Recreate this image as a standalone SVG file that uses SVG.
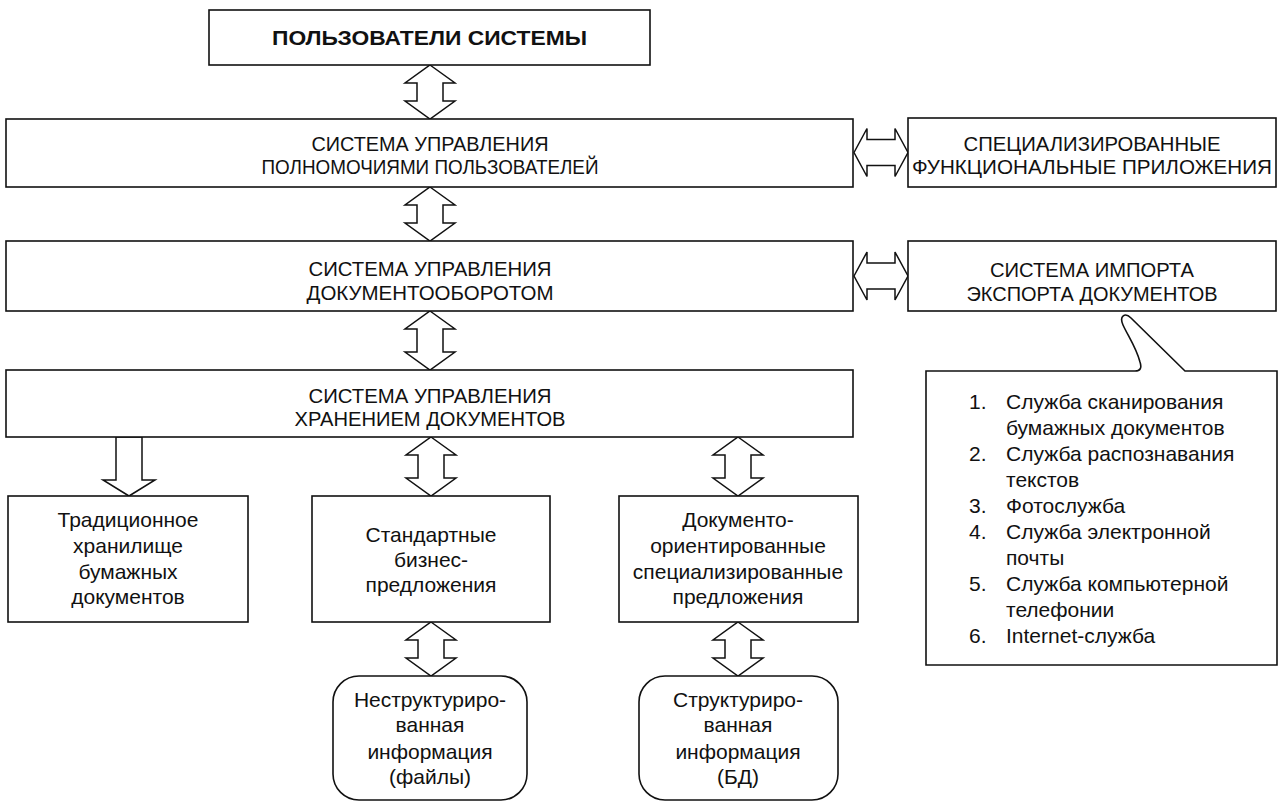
<svg xmlns="http://www.w3.org/2000/svg" width="1281" height="803" viewBox="0 0 1281 803">
<style>
.box{fill:#fff;stroke:#111;stroke-width:1.6}
.arr{fill:#fff;stroke:#111;stroke-width:1.5;stroke-linejoin:miter}
text{font-family:"Liberation Sans",Arial,sans-serif;fill:#111}
.cap{font-size:20px;text-anchor:middle}
.low{font-size:21px;text-anchor:middle}
.lst{font-size:21px}
.bold{font-size:21px;font-weight:bold;text-anchor:middle}
</style>
<rect width="1281" height="803" fill="#fff"/>
<g id="connectors">
<path class="arr" d="M430,65 L455,83 L443,83 L443,101 L455,101 L430,119 L405,101 L417,101 L417,83 L405,83 Z"/>
<path class="arr" d="M430,187 L455,205 L443,205 L443,223 L455,223 L430,241 L405,223 L417,223 L417,205 L405,205 Z"/>
<path class="arr" d="M430,311 L455,329 L443,329 L443,352 L455,352 L430,370 L405,352 L417,352 L417,329 L405,329 Z"/>
<path class="arr" d="M854,152.5 L867,128.5 L867,139.5 L895,139.5 L895,128.5 L908,152.5 L895,176.5 L895,165.5 L867,165.5 L867,176.5 Z"/>
<path class="arr" d="M854,276 L867,252 L867,263 L895,263 L895,252 L908,276 L895,300 L895,289 L867,289 L867,300 Z"/>
<path class="arr" d="M116,437 L142,437 L142,480 L155,480 L129,496 L103,480 L116,480 Z"/>
<path class="arr" d="M431,437 L456,455 L444,455 L444,478 L456,478 L431,496 L406,478 L418,478 L418,455 L406,455 Z"/>
<path class="arr" d="M738,437 L763,455 L751,455 L751,478 L763,478 L738,496 L713,478 L725,478 L725,455 L713,455 Z"/>
<path class="arr" d="M431,622 L456,640 L444,640 L444,658 L456,658 L431,676 L406,658 L418,658 L418,640 L406,640 Z"/>
<path class="arr" d="M738,622 L763,640 L751,640 L751,658 L763,658 L738,676 L713,658 L725,658 L725,640 L713,640 Z"/>
</g>
<g id="users">
<rect class="box" x="209" y="10" width="441" height="55"/>
<text class="bold" x="429.5" y="45" textLength="315" lengthAdjust="spacingAndGlyphs">ПОЛЬЗОВАТЕЛИ  СИСТЕМЫ</text>
</g>
<g id="authority">
<rect class="box" x="6" y="119" width="847" height="68"/>
<text class="cap" x="430" y="151" textLength="237" lengthAdjust="spacingAndGlyphs">СИСТЕМА УПРАВЛЕНИЯ</text>
<text class="cap" x="430" y="174" textLength="337" lengthAdjust="spacingAndGlyphs">ПОЛНОМОЧИЯМИ ПОЛЬЗОВАТЕЛЕЙ</text>
</g>
<g id="apps">
<rect class="box" x="908" y="118" width="368" height="69"/>
<text class="cap" x="1092" y="151" textLength="257" lengthAdjust="spacingAndGlyphs">СПЕЦИАЛИЗИРОВАННЫЕ</text>
<text class="cap" x="1092" y="174" textLength="360" lengthAdjust="spacingAndGlyphs">ФУНКЦИОНАЛЬНЫЕ ПРИЛОЖЕНИЯ</text>
</g>
<g id="workflow">
<rect class="box" x="6" y="241" width="847" height="70"/>
<text class="cap" x="430" y="276" textLength="243" lengthAdjust="spacingAndGlyphs">СИСТЕМА УПРАВЛЕНИЯ</text>
<text class="cap" x="430" y="300" textLength="247" lengthAdjust="spacingAndGlyphs">ДОКУМЕНТООБОРОТОМ</text>
</g>
<g id="importexport">
<rect class="box" x="908" y="241" width="368" height="70"/>
<text class="cap" x="1092" y="277" textLength="204" lengthAdjust="spacingAndGlyphs">СИСТЕМА ИМПОРТА</text>
<text class="cap" x="1092" y="301" textLength="251" lengthAdjust="spacingAndGlyphs">ЭКСПОРТА ДОКУМЕНТОВ</text>
</g>
<g id="storage">
<rect class="box" x="6" y="370" width="847" height="67"/>
<text class="cap" x="430" y="403" textLength="243" lengthAdjust="spacingAndGlyphs">СИСТЕМА УПРАВЛЕНИЯ</text>
<text class="cap" x="430" y="426" textLength="271" lengthAdjust="spacingAndGlyphs">ХРАНЕНИЕМ ДОКУМЕНТОВ</text>
</g>
<g id="traditional">
<rect class="box" x="8" y="496" width="240" height="126"/>
<text class="low" x="128" y="527">Традиционное</text>
<text class="low" x="128" y="553">хранилище</text>
<text class="low" x="128" y="579">бумажных</text>
<text class="low" x="128" y="604">документов</text>
</g>
<g id="standard">
<rect class="box" x="312" y="496" width="238" height="126"/>
<text class="low" x="431" y="542">Стандартные</text>
<text class="low" x="431" y="567">бизнес-</text>
<text class="low" x="431" y="592">предложения</text>
</g>
<g id="docoriented">
<rect class="box" x="619" y="496" width="239" height="126"/>
<text class="low" x="738" y="527">Документо-</text>
<text class="low" x="738" y="553">ориентированные</text>
<text class="low" x="738" y="579">специализированные</text>
<text class="low" x="738" y="604">предложения</text>
</g>
<g id="unstructured">
<rect class="box" x="333" y="676" width="194" height="124" rx="26" ry="26"/>
<text class="low" x="430" y="707">Неструктуриро-</text>
<text class="low" x="430" y="732">ванная</text>
<text class="low" x="430" y="759">информация</text>
<text class="low" x="430" y="784">(файлы)</text>
</g>
<g id="structured">
<rect class="box" x="639" y="676" width="199" height="124" rx="26" ry="26"/>
<text class="low" x="738" y="707">Структуриро-</text>
<text class="low" x="738" y="732">ванная</text>
<text class="low" x="738" y="759">информация</text>
<text class="low" x="738" y="784">(БД)</text>
</g>
<g id="services">
<path class="box" d="M926,371 L1135,371 Q1143,371 1140,362 C1136,347 1128,336 1123,325 C1119,316 1125,312 1131,318 L1185,371 L1277,371 L1277,665 L926,665 Z"/>
<text class="lst" x="969" y="409">1.</text><text class="lst" x="1006" y="409">Служба сканирования</text>
<text class="lst" x="1006" y="435">бумажных документов</text>
<text class="lst" x="969" y="461">2.</text><text class="lst" x="1006" y="461">Служба распознавания</text>
<text class="lst" x="1006" y="487">текстов</text>
<text class="lst" x="969" y="513">3.</text><text class="lst" x="1006" y="513">Фотослужба</text>
<text class="lst" x="969" y="539">4.</text><text class="lst" x="1006" y="539">Служба электронной</text>
<text class="lst" x="1006" y="565">почты</text>
<text class="lst" x="969" y="591">5.</text><text class="lst" x="1006" y="591">Служба компьютерной</text>
<text class="lst" x="1006" y="617">телефонии</text>
<text class="lst" x="969" y="643">6.</text><text class="lst" x="1006" y="643">Internet-служба</text>
</g>
</svg>
